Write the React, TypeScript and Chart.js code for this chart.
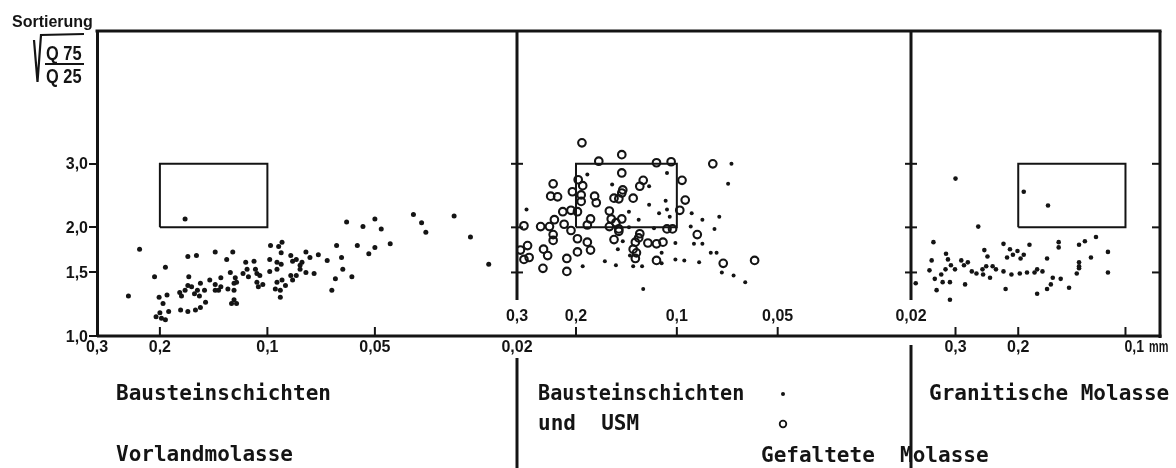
import { useEffect, useRef } from 'react';
import { Chart, registerables } from 'chart.js';

Chart.register(...registerables);

// ---------- data ----------
const Y_TICKS = [1, 1.5, 2, 3];
const Y_TICK_LABELS = ['1,0', '1,5', '2,0', '3,0'];
const Y_RANGE = [1, 7];

const X1_RANGE = [0.02, 0.3];
const X1_TICKS = [0.3, 0.2, 0.1, 0.05, 0.02];
const X1_TICK_LABELS = ['0,3', '0,2', '0,1', '0,05', '0,02'];

const X2_RANGE = [0.02, 0.3];
const X2_TICKS = [0.3, 0.2, 0.1, 0.05, 0.02];
const X2_TICK_LABELS = ['0,3', '0,2', '0,1', '0,05', '0,02'];

const X3_RANGE = [0.08, 0.4];
const X3_TICKS = [0.3, 0.2, 0.1];
const X3_TICK_LABELS = ['0,3', '0,2', '0,1 mm'];

const RECT_X = [0.2, 0.1];
const RECT_Y = [2, 3];

// Vorlandmolasse, Bausteinschichten (dots)
const VORLAND: [number, number][] = [
  [0.170, 2.11], [0.228, 1.74], [0.245, 1.29], [0.207, 1.46], [0.193, 1.55], [0.201, 1.28], [0.191, 1.30], [0.196, 1.23], [0.189, 1.17], [0.200, 1.16],
  [0.205, 1.13], [0.198, 1.12], [0.193, 1.11], [0.167, 1.66], [0.158, 1.67], [0.166, 1.46], [0.176, 1.32], [0.174, 1.29], [0.170, 1.34], [0.167, 1.38],
  [0.163, 1.37], [0.160, 1.31], [0.154, 1.40], [0.157, 1.34], [0.155, 1.29], [0.150, 1.34], [0.175, 1.18], [0.167, 1.17], [0.159, 1.18], [0.154, 1.20],
  [0.149, 1.24], [0.140, 1.71], [0.145, 1.43], [0.140, 1.39], [0.140, 1.34], [0.135, 1.45], [0.135, 1.37], [0.137, 1.34], [0.129, 1.35], [0.130, 1.63],
  [0.125, 1.71], [0.127, 1.50], [0.123, 1.45], [0.124, 1.40], [0.122, 1.41], [0.124, 1.34], [0.124, 1.26], [0.122, 1.23], [0.126, 1.23], [0.115, 1.60],
  [0.114, 1.53], [0.117, 1.49], [0.113, 1.46], [0.109, 1.61], [0.108, 1.53], [0.107, 1.49], [0.105, 1.47], [0.107, 1.41], [0.106, 1.37], [0.103, 1.39],
  [0.0985, 1.63], [0.0985, 1.51], [0.098, 1.78], [0.093, 1.77], [0.091, 1.82], [0.094, 1.60], [0.0915, 1.70], [0.0915, 1.58], [0.094, 1.53], [0.091, 1.43],
  [0.094, 1.41], [0.095, 1.35], [0.092, 1.34], [0.092, 1.28], [0.089, 1.38], [0.086, 1.67], [0.085, 1.61], [0.083, 1.63], [0.081, 1.57], [0.081, 1.53],
  [0.080, 1.60], [0.078, 1.71], [0.086, 1.47], [0.085, 1.43], [0.083, 1.47], [0.076, 1.65], [0.078, 1.50], [0.074, 1.49], [0.072, 1.68], [0.068, 1.62],
  [0.064, 1.78], [0.060, 2.07], [0.062, 1.65], [0.0615, 1.53], [0.0645, 1.44], [0.066, 1.34], [0.058, 1.46], [0.056, 1.78], [0.054, 2.01], [0.050, 2.11],
  [0.048, 1.98], [0.050, 1.76], [0.052, 1.69], [0.0453, 1.80], [0.039, 2.17], [0.037, 2.06], [0.036, 1.94], [0.030, 2.15], [0.027, 1.88], [0.024, 1.58],
];

// Gefaltete Molasse: Bausteinschichten (dots)
const GEF_BAUSTEIN: [number, number][] = [
  [0.185, 2.80], [0.281, 2.24], [0.307, 1.66], [0.191, 1.56], [0.156, 2.63], [0.121, 2.60], [0.121, 2.31], [0.108, 2.37], [0.113, 2.19], [0.107, 2.24],
  [0.105, 2.14], [0.130, 2.10], [0.139, 2.00], [0.117, 1.99], [0.145, 1.83], [0.150, 1.74], [0.138, 1.67], [0.164, 1.61], [0.152, 1.57], [0.135, 1.56],
  [0.127, 1.56], [0.111, 1.59], [0.111, 1.70], [0.101, 1.63], [0.101, 1.81], [0.126, 1.35], [0.107, 2.83], [0.139, 2.21],
  [0.0687, 3.00], [0.0703, 2.64], [0.0903, 2.19], [0.0839, 2.10], [0.0747, 2.14], [0.0909, 2.01], [0.0772, 1.98], [0.0889, 1.80], [0.0839, 1.80], [0.0792, 1.70],
  [0.0761, 1.70], [0.0950, 1.62], [0.0858, 1.60], [0.0734, 1.50], [0.0677, 1.47], [0.0625, 1.41],
];

// Gefaltete Molasse: USM (circles)
const GEF_USM: [number, number][] = [
  [0.192, 3.43], [0.234, 2.64], [0.238, 2.44], [0.227, 2.43], [0.205, 2.51], [0.197, 2.71], [0.191, 2.61], [0.193, 2.46], [0.193, 2.36], [0.176, 2.44],
  [0.219, 2.21], [0.207, 2.23], [0.198, 2.21], [0.286, 2.02], [0.255, 2.01], [0.240, 2.01], [0.232, 2.10], [0.217, 2.04], [0.234, 1.91], [0.234, 1.84],
  [0.207, 1.96], [0.198, 1.86], [0.185, 2.03], [0.181, 2.11], [0.185, 1.82], [0.181, 1.73], [0.198, 1.71], [0.318, 1.78], [0.293, 1.73], [0.279, 1.78],
  [0.286, 1.63], [0.276, 1.65], [0.250, 1.74], [0.243, 1.67], [0.251, 1.54], [0.213, 1.64], [0.213, 1.51],
  [0.171, 3.05], [0.146, 3.18], [0.115, 3.02], [0.104, 3.04], [0.146, 2.83], [0.174, 2.34], [0.154, 2.41], [0.149, 2.40], [0.146, 2.49], [0.145, 2.54],
  [0.135, 2.41], [0.129, 2.60], [0.126, 2.70], [0.159, 2.22], [0.157, 2.11], [0.152, 2.06], [0.146, 2.11], [0.159, 2.01], [0.149, 1.98], [0.149, 1.95],
  [0.154, 1.85], [0.129, 1.92], [0.130, 1.87], [0.133, 1.82], [0.135, 1.74], [0.132, 1.70], [0.133, 1.64], [0.122, 1.81], [0.115, 1.80], [0.110, 1.82],
  [0.115, 1.62], [0.107, 1.98], [0.103, 1.98], [0.0781, 3.00], [0.0965, 2.70], [0.0944, 2.38], [0.098, 2.23], [0.0869, 1.91], [0.0727, 1.59], [0.0586, 1.62],
];

// Granitische Molasse (dots)
const GRANIT: [number, number][] = [
  [0.300, 2.73], [0.193, 2.51], [0.165, 2.30], [0.259, 2.01], [0.346, 1.82], [0.350, 1.62], [0.355, 1.52], [0.388, 1.40], [0.343, 1.44], [0.339, 1.34],
  [0.329, 1.48], [0.326, 1.41], [0.319, 1.69], [0.315, 1.63], [0.309, 1.57], [0.320, 1.53], [0.311, 1.41], [0.301, 1.53], [0.311, 1.26], [0.289, 1.62],
  [0.277, 1.60], [0.284, 1.57], [0.282, 1.39], [0.270, 1.51], [0.262, 1.49], [0.252, 1.53], [0.251, 1.48], [0.246, 1.56], [0.240, 1.45], [0.236, 1.56],
  [0.231, 1.53], [0.249, 1.73], [0.244, 1.66], [0.220, 1.80], [0.211, 1.74], [0.215, 1.65], [0.207, 1.68], [0.201, 1.72], [0.197, 1.64], [0.193, 1.68],
  [0.186, 1.79], [0.220, 1.51], [0.209, 1.48], [0.198, 1.49], [0.189, 1.50], [0.180, 1.50], [0.217, 1.35],
  [0.154, 1.82], [0.154, 1.76], [0.135, 1.79], [0.130, 1.83], [0.121, 1.88], [0.166, 1.64], [0.112, 1.71], [0.125, 1.65], [0.135, 1.60],
  [0.135, 1.56], [0.135, 1.54], [0.177, 1.53], [0.171, 1.51], [0.137, 1.49], [0.112, 1.50], [0.160, 1.45], [0.152, 1.44], [0.162, 1.39], [0.166, 1.35],
  [0.144, 1.36], [0.177, 1.31],
];

// ---------- styling ----------
const INK = '#141414';
const SANS = '"Liberation Sans", Arial, sans-serif';
const MONO = '"DejaVu Sans Mono", "Liberation Mono", monospace';

const PANELS = [
  { id: 'x1', range: X1_RANGE, ticks: X1_TICKS, labels: X1_TICK_LABELS, above: false, weight: 420 },
  { id: 'x2', range: X2_RANGE, ticks: X2_TICKS, labels: X2_TICK_LABELS, above: true, weight: 394 },
  { id: 'x3', range: X3_RANGE, ticks: X3_TICKS, labels: X3_TICK_LABELS, above: false, weight: 249 },
];

const toPoints = (arr: [number, number][]) => arr.map(([x, y]) => ({ x, y }));
const rectPoints = () => {
  const [xa, xb] = RECT_X;
  const [ya, yb] = RECT_Y;
  return [
    { x: xa, y: ya }, { x: xb, y: ya }, { x: xb, y: yb }, { x: xa, y: yb }, { x: xa, y: ya },
  ];
};

function seg(ctx: CanvasRenderingContext2D, x1: number, y1: number, x2: number, y2: number) {
  ctx.beginPath();
  ctx.moveTo(x1, y1);
  ctx.lineTo(x2, y2);
  ctx.stroke();
}

// text with an optional horizontal squeeze (keeps it real text)
function text(ctx: any, s: string, x: number, y: number, align: string, sx = 1) {
  ctx.save();
  ctx.translate(x, y);
  ctx.scale(sx, 1);
  ctx.textAlign = align;
  ctx.fillText(s, 0, 0);
  ctx.restore();
}

const figurePlugin = {
  id: 'figure',
  beforeDraw(chart: any) {
    const { ctx, width, height } = chart;
    ctx.save();
    ctx.fillStyle = '#ffffff';
    ctx.fillRect(0, 0, width, height);
    ctx.restore();
  },
  beforeDatasetsDraw(chart: any) {
    const ctx: any = chart.ctx;
    const a = chart.chartArea;
    const ys = chart.scales.y;
    const s1 = chart.scales.x1;
    const s2 = chart.scales.x2;
    const H = chart.height;
    ctx.save();
    ctx.strokeStyle = INK;
    ctx.fillStyle = INK;
    ctx.lineCap = 'butt';
    ctx.letterSpacing = '0px';
    ctx.textBaseline = 'alphabetic';

    // frame
    ctx.lineWidth = 3;
    seg(ctx, a.left - 1.5, a.top, a.right + 1.5, a.top);
    seg(ctx, a.left, a.bottom, a.right + 1.5, a.bottom);
    seg(ctx, a.right, a.top, a.right, a.bottom + 2);
    [s1.right, s2.right].forEach((d: number, i: number) => {
      seg(ctx, d, a.top, d, a.bottom - 36);
      seg(ctx, d, a.bottom + (i === 0 ? 22 : 9), d, H);
    });

    // y ticks on inner axes
    ctx.lineWidth = 2;
    Y_TICKS.filter((v) => v > Y_RANGE[0]).forEach((v) => {
      const py = ys.getPixelForValue(v);
      [s1.right, s2.right].forEach((d: number) => seg(ctx, d - 6, py, d + 6, py));
      seg(ctx, a.right - 8, py, a.right, py);
    });

    // y labels
    ctx.font = `bold 16px ${SANS}`;
    Y_TICKS.forEach((v, i) => {
      text(ctx, Y_TICK_LABELS[i], a.left - 9, ys.getPixelForValue(v) + 5.5, 'right');
    });

    // x ticks and labels
    PANELS.forEach((p) => {
      const s = chart.scales[p.id];
      p.ticks.forEach((v, i) => {
        const px = s.getPixelForValue(v);
        if (v > p.range[0] && v < p.range[1]) seg(ctx, px, a.bottom, px, a.bottom - 9);
        const label = p.labels[i];
        const yb = p.above ? a.bottom - 15 : a.bottom + 16;
        const sp = label.indexOf(' ');
        if (sp > 0) {
          const num = label.slice(0, sp);
          const unit = label.slice(sp + 1);
          text(ctx, num, px - 1, yb, 'left', 0.88);
          const w = ctx.measureText(num).width * 0.88;
          text(ctx, unit, px - 1 + w + 5, yb, 'left', 0.68);
        } else {
          text(ctx, label, px, yb, 'center');
        }
      });
    });

    // y title: Sortierung  sqrt(Q75/Q25)
    ctx.font = `bold 16px ${SANS}`;
    text(ctx, 'Sortierung', 12, 27, 'left');
    ctx.lineWidth = 2.2;
    ctx.beginPath();
    ctx.moveTo(34, 40);
    ctx.lineTo(37.5, 82);
    ctx.lineTo(41, 35);
    ctx.lineTo(84, 34);
    ctx.stroke();
    ctx.font = `bold 20px ${SANS}`;
    text(ctx, 'Q 75', 46, 60, 'left', 0.82);
    ctx.lineWidth = 2;
    seg(ctx, 45, 64, 84, 64);
    text(ctx, 'Q 25', 46, 83, 'left', 0.82);

    // captions
    ctx.font = `bold 21px ${MONO}`;
    text(ctx, 'Bausteinschichten', 116, 400, 'left');
    text(ctx, 'Vorlandmolasse', 116, 461, 'left');
    text(ctx, 'Bausteinschichten', 538, 400, 'left', 0.96);
    text(ctx, 'und  USM', 538, 430, 'left');
    text(ctx, 'Gefaltete  Molasse', 761, 462, 'left');
    text(ctx, 'Granitische Molasse', 929, 400, 'left');
    // legend symbols
    ctx.beginPath();
    ctx.arc(783, 394, 2, 0, Math.PI * 2);
    ctx.fill();
    ctx.lineWidth = 1.8;
    ctx.beginPath();
    ctx.arc(783, 424, 3.3, 0, Math.PI * 2);
    ctx.stroke();
    ctx.restore();
  },
};

export default function App() {
  const ref = useRef<HTMLCanvasElement | null>(null);
  useEffect(() => {
    const canvas = ref.current;
    if (!canvas) return;
    const dot = (data: [number, number][], xAxisID: string, r: number, label: string) => ({
      label,
      data: toPoints(data),
      xAxisID,
      yAxisID: 'y',
      showLine: false,
      pointStyle: 'circle',
      pointRadius: r,
      pointBackgroundColor: INK,
      pointBorderColor: INK,
      pointBorderWidth: 0,
      order: 1,
    });
    const rect = (xAxisID: string) => ({
      label: 'Bereich',
      data: rectPoints(),
      xAxisID,
      yAxisID: 'y',
      showLine: true,
      fill: false,
      tension: 0,
      borderColor: INK,
      borderWidth: 2,
      pointRadius: 0,
      order: 5,
    });
    const xScale = (p: any) => ({
      type: 'logarithmic',
      reverse: true,
      min: p.range[0],
      max: p.range[1],
      position: 'bottom',
      stack: 'panels',
      stackWeight: p.weight,
      display: true,
      ticks: { display: false },
      grid: { display: false },
      border: { display: false },
      afterFit: (s: any) => { s.height = 132; },
    });
    const chart = new Chart(canvas, {
      type: 'scatter',
      data: {
        datasets: [
          dot(VORLAND, 'x1', 2.5, 'Vorlandmolasse'),
          dot(GEF_BAUSTEIN, 'x2', 2.0, 'Bausteinschichten'),
          {
            label: 'USM',
            data: toPoints(GEF_USM),
            xAxisID: 'x2',
            yAxisID: 'y',
            showLine: false,
            pointStyle: 'circle',
            pointRadius: 3.8,
            pointBackgroundColor: 'rgba(255,255,255,0)',
            pointBorderColor: INK,
            pointBorderWidth: 2.1,
            order: 1,
          },
          dot(GRANIT, 'x3', 2.3, 'Granitische Molasse'),
          rect('x1'),
          rect('x2'),
          rect('x3'),
        ] as any,
      },
      options: {
        animation: false,
        responsive: false,
        maintainAspectRatio: false,
        events: [],
        layout: { padding: { top: 31, right: 16, bottom: 0, left: 0 } },
        plugins: { legend: { display: false }, tooltip: { enabled: false } },
        scales: {
          y: {
            type: 'logarithmic',
            min: Y_RANGE[0],
            max: Y_RANGE[1],
            position: 'left',
            afterBuildTicks: (s: any) => { s.ticks = Y_TICKS.map((v) => ({ value: v })); },
            afterFit: (s: any) => { s.width = 97; },
            ticks: { display: false },
            grid: { display: true, drawOnChartArea: false, drawTicks: true, tickLength: 8, lineWidth: 2, color: INK },
            border: { display: true, width: 3, color: INK },
          },
          x1: xScale(PANELS[0]),
          x2: xScale(PANELS[1]),
          x3: xScale(PANELS[2]),
        } as any,
      },
      plugins: [figurePlugin],
    });
    return () => chart.destroy();
  }, []);
  return (
    <div style={{ position: 'fixed', left: 0, top: 0, width: 1176, height: 468, background: '#fff' }}>
      <canvas ref={ref} width={1176} height={468} style={{ width: 1176, height: 468, display: 'block' }} />
    </div>
  );
}
